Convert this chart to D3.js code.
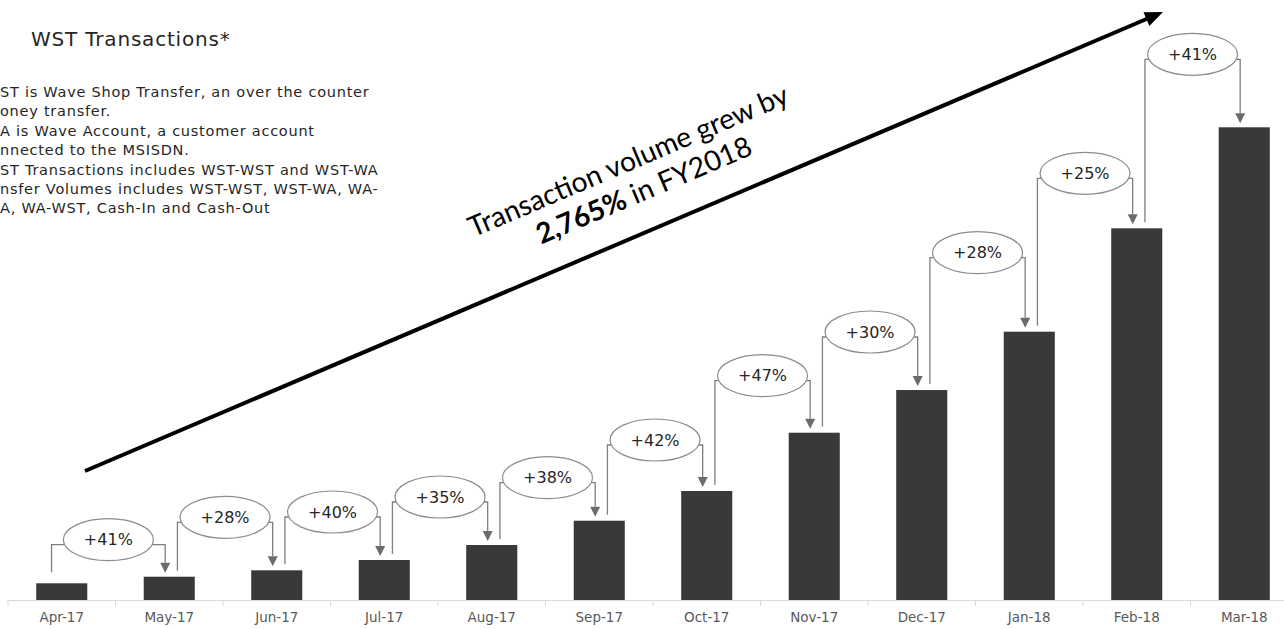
<!DOCTYPE html>
<html>
<head>
<meta charset="utf-8">
<script src="https://cdn.jsdelivr.net/npm/d3@7/dist/d3.min.js"></script>
<style>
  body { margin: 0; background: #fff; }
  svg { display: block; }
</style>
</head>
<body>
<div id="chart"></div>
<script>
// monthly WST transaction volume
var categories = ["Apr-17", "May-17", "Jun-17", "Jul-17", "Aug-17", "Sep-17",
                  "Oct-17", "Nov-17", "Dec-17", "Jan-18", "Feb-18", "Mar-18"];
var volumes = [16.7, 23.3, 29.7, 40, 55, 79.3, 109, 167.3, 210, 268.3, 371.7, 472.7];
var growthLabels = ["+41%", "+28%", "+40%", "+35%", "+38%", "+42%",
                    "+47%", "+30%", "+28%", "+25%", "+41%"];
// how high each bubble sits above the bar it points to (px)
var calloutLift = [37, 53, 48, 48, 43, 51, 57, 58, 79, 55, 73];

var titleText = "WST Transactions*";
// [cut-off part, visible part]
var noteLines = [
  ["W", "ST is Wave Shop Transfer, an over the counter"],
  ["m", "oney transfer."],
  ["W", "A is Wave Account, a customer account"],
  ["co", "nnected to the MSISDN."],
  ["W", "ST Transactions includes WST-WST and WST-WA"],
  ["Tra", "nsfer Volumes includes WST-WST, WST-WA, WA-"],
  ["W", "A, WA-WST, Cash-In and Cash-Out"]
];
var headline1 = "Transaction volume grew by";
var headlineBold = "2,765%";
var headlineRest = " in FY2018";

var width = 1284, height = 629;
var baseY = 600;
var gothic = "'DejaVu Sans', sans-serif";

var svg = d3.select("#chart").append("svg")
  .attr("width", width)
  .attr("height", height);

var x = d3.scaleBand()
  .domain(categories)
  .range([8, 1298])
  .paddingInner(0.525)
  .paddingOuter(0.2625);

var y = d3.scaleLinear()
  .domain([0, 500])
  .range([baseY, baseY - 500]);

var step = x.step();
var bw = x.bandwidth();

// axis line + boundary ticks
svg.append("line")
  .attr("x1", 8).attr("x2", 1298)
  .attr("y1", baseY + 0.5).attr("y2", baseY + 0.5)
  .attr("stroke", "#d9d9d9").attr("stroke-width", 1);

svg.append("g").selectAll("line")
  .data(d3.range(categories.length + 1))
  .enter().append("line")
    .attr("x1", function(i) { return 8 + i * step; })
    .attr("x2", function(i) { return 8 + i * step; })
    .attr("y1", baseY).attr("y2", baseY + 6)
    .attr("stroke", "#d9d9d9");

var axis = svg.append("g")
  .attr("transform", "translate(0," + baseY + ")")
  .call(d3.axisBottom(x).tickSize(0).tickPadding(12));
axis.select(".domain").remove();
axis.selectAll("text")
  .attr("font-family", gothic)
  .attr("font-size", 13.5)
  .attr("fill", "#595959");

// bars
svg.append("g").selectAll("rect")
  .data(volumes)
  .enter().append("rect")
    .attr("x", function(d, i) { return x(categories[i]); })
    .attr("y", function(d) { return y(d); })
    .attr("width", bw)
    .attr("height", function(d) { return baseY - y(d); })
    .attr("fill", "#3a3937");

// growth callouts between consecutive bars
var headLen = 10, headHalf = 5;
var callouts = growthLabels.map(function(label, i) {
  var leftX = x(categories[i]) + (i === 0 ? bw * 0.3 : bw * 0.66);
  var arrowX = x(categories[i + 1]) + bw * 0.42;
  var nextTop = y(volumes[i + 1]);
  return {
    label: label,
    leftX: leftX,
    arrowX: arrowX,
    startY: y(volumes[i]) - (i === 0 ? 11 : 6),
    cx: (leftX + arrowX) / 2,
    cy: nextTop - calloutLift[i],
    tipY: nextTop - 4
  };
});

var cg = svg.append("g").selectAll("g")
  .data(callouts)
  .enter().append("g");

cg.append("path")
  .attr("d", function(d) {
    return "M" + d.leftX + "," + d.startY +
      "V" + (d.cy + 5) + "H" + d.arrowX + "V" + (d.tipY - headLen);
  })
  .attr("fill", "none")
  .attr("stroke", "#7f7f7f")
  .attr("stroke-width", 1.3);

cg.append("path")
  .attr("d", function(d) {
    return "M" + (d.arrowX - headHalf) + "," + (d.tipY - headLen) +
      "L" + (d.arrowX + headHalf) + "," + (d.tipY - headLen) +
      "L" + d.arrowX + "," + d.tipY + "Z";
  })
  .attr("fill", "#6b6b6b");

cg.append("ellipse")
  .attr("cx", function(d) { return d.cx; })
  .attr("cy", function(d) { return d.cy; })
  .attr("rx", 45)
  .attr("ry", 21)
  .attr("fill", "#fff")
  .attr("stroke", "#8c8c8c")
  .attr("stroke-width", 1.2);

cg.append("text")
  .attr("x", function(d) { return d.cx; })
  .attr("y", function(d) { return d.cy; })
  .attr("dy", "0.36em")
  .attr("text-anchor", "middle")
  .attr("font-family", gothic)
  .attr("font-size", 16)
  .attr("fill", "#262626")
  .text(function(d) { return d.label; });

// big trend arrow
var a0 = [85, 471], a1 = [1163, 12];
var ang = Math.atan2(a1[1] - a0[1], a1[0] - a0[0]);
var aLen = 18, aHalf = 7.5;
var back = [a1[0] - aLen * Math.cos(ang), a1[1] - aLen * Math.sin(ang)];
svg.append("line")
  .attr("x1", a0[0]).attr("y1", a0[1])
  .attr("x2", back[0] + 2 * Math.cos(ang)).attr("y2", back[1] + 2 * Math.sin(ang))
  .attr("stroke", "#000").attr("stroke-width", 4);
svg.append("path")
  .attr("d", "M" + a1[0] + "," + a1[1] +
    "L" + (back[0] + aHalf * Math.sin(ang)) + "," + (back[1] - aHalf * Math.cos(ang)) +
    "L" + (back[0] - aHalf * Math.sin(ang)) + "," + (back[1] + aHalf * Math.cos(ang)) + "Z")
  .attr("fill", "#000");

// headline along the arrow
var hg = svg.append("g")
  .attr("transform", "translate(632,170) rotate(" + (ang * 180 / Math.PI) + ")");
var h1 = hg.append("text")
  .attr("text-anchor", "middle")
  .attr("font-family", "Lato, 'Open Sans', sans-serif")
  .attr("font-size", 20)
  .attr("fill", "#000")
  .text(headline1);
var hs = 20 * 345 / h1.node().getComputedTextLength();
h1.attr("font-size", hs);
var h2 = hg.append("text")
  .attr("x", 3)
  .attr("y", 33)
  .attr("text-anchor", "middle")
  .attr("font-family", "Lato, 'Open Sans', sans-serif")
  .attr("font-size", hs)
  .attr("fill", "#000");
h2.append("tspan").attr("font-weight", "bold").text(headlineBold);
h2.append("tspan").text(headlineRest);

// title
svg.append("text")
  .attr("x", 31)
  .attr("y", 46)
  .attr("font-family", gothic)
  .attr("font-size", 20)
  .attr("letter-spacing", 0.8)
  .attr("fill", "#262626")
  .text(titleText);

// footnote text, cut off at the left edge
var notes = svg.append("g")
  .attr("font-family", gothic)
  .attr("font-size", 14.5)
  .attr("letter-spacing", 0.75)
  .attr("fill", "#262626");
noteLines.forEach(function(line, i) {
  var t = notes.append("text").attr("y", 97 + i * 19.4);
  var pre = t.append("tspan").text(line[0]);
  t.append("tspan").text(line[1]);
  t.attr("x", -pre.node().getComputedTextLength());
});
</script>
</body>
</html>
